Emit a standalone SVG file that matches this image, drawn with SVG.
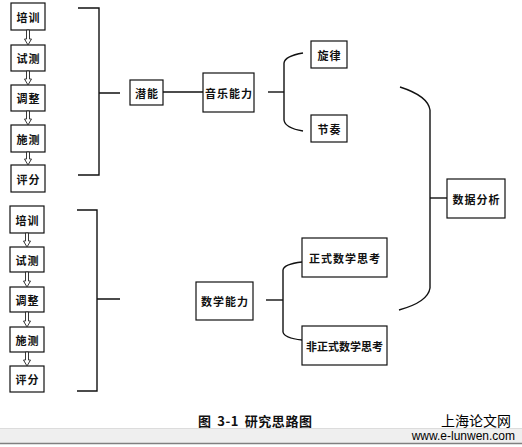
<svg xmlns="http://www.w3.org/2000/svg" width="522" height="447" viewBox="0 0 522 447">
<style>
.box{fill:#fff;stroke:#111;stroke-width:1.2}
.t{font-family:"Noto Sans CJK SC","Noto Sans",sans-serif;font-size:11px;font-weight:bold;fill:#111;text-anchor:middle;dominant-baseline:central;letter-spacing:1px}
.tn{letter-spacing:0px}
.ln{fill:none;stroke:#111;stroke-width:1.4}
.arr{fill:#fff;stroke:#222;stroke-width:0.9}
</style>
<rect x="0" y="0" width="522" height="447" fill="#fff"/>
<g id="col1">
<g id="n1"><rect class="box" x="11" y="3" width="34" height="27"/><text class="t" x="28.5" y="16.5">培训</text></g>
<g id="n2"><rect class="box" x="11" y="45" width="34" height="26"/><text class="t" x="28.5" y="58">试测</text></g>
<g id="n3"><rect class="box" x="11" y="85" width="34" height="26"/><text class="t" x="28.5" y="98">调整</text></g>
<g id="n4"><rect class="box" x="11" y="125" width="34" height="27"/><text class="t" x="28.5" y="138.5">施测</text></g>
<g id="n5"><rect class="box" x="11" y="165" width="34" height="27"/><text class="t" x="28.5" y="178.5">评分</text></g>
</g>
<g id="col2">
<g id="m1"><rect class="box" x="10" y="206" width="34" height="27"/><text class="t" x="27.5" y="219.5">培训</text></g>
<g id="m2"><rect class="box" x="10" y="247" width="34" height="25"/><text class="t" x="27.5" y="259.5">试测</text></g>
<g id="m3"><rect class="box" x="10" y="287" width="34" height="25"/><text class="t" x="27.5" y="299.5">调整</text></g>
<g id="m4"><rect class="box" x="10" y="327" width="34" height="25"/><text class="t" x="27.5" y="339.5">施测</text></g>
<g id="m5"><rect class="box" x="10" y="366" width="34" height="26"/><text class="t" x="27.5" y="379">评分</text></g>
</g>
<g id="qianneng"><rect class="box" x="130" y="80" width="33" height="25"/><text class="t" x="147" y="92.5">潜能</text></g>
<g id="yinyue"><rect class="box" x="203" y="73" width="51" height="39"/><text class="t" x="229" y="92.5">音乐能力</text></g>
<g id="xuanlv"><rect class="box" x="311" y="41" width="36" height="27"/><text class="t" x="329.5" y="54.5">旋律</text></g>
<g id="jiezou"><rect class="box" x="311" y="115" width="36" height="27"/><text class="t" x="329.5" y="128.5">节奏</text></g>
<g id="shuju"><rect class="box" x="447" y="179" width="58" height="39"/><text class="t" x="476.5" y="198.5">数据分析</text></g>
<g id="shuxue"><rect class="box" x="196" y="282" width="57" height="38"/><text class="t" x="225" y="301">数学能力</text></g>
<g id="zhengshi"><rect class="box" x="302" y="238" width="85" height="39"/><text class="t" x="345" y="257.5">正式数学思考</text></g>
<g id="feizhengshi"><rect class="box" x="302" y="326" width="85" height="39"/><text class="t tn" x="344.5" y="345.5">非正式数学思考</text></g>
<g id="connectors">
<g id="arrows">
<polygon class="arr" points="26.5,30 29.5,30 29.5,39 31.5,39 28,45 24.5,39 26.5,39"/>
<polygon class="arr" points="26.5,71 29.5,71 29.5,79 31.5,79 28,85 24.5,79 26.5,79"/>
<polygon class="arr" points="26.5,111 29.5,111 29.5,119 31.5,119 28,125 24.5,119 26.5,119"/>
<polygon class="arr" points="26.5,152 29.5,152 29.5,159 31.5,159 28,165 24.5,159 26.5,159"/>
<polygon class="arr" points="25.5,233 28.5,233 28.5,241 30.5,241 27,247 23.5,241 25.5,241"/>
<polygon class="arr" points="25.5,272 28.5,272 28.5,281 30.5,281 27,287 23.5,281 25.5,281"/>
<polygon class="arr" points="25.5,312 28.5,312 28.5,321 30.5,321 27,327 23.5,321 25.5,321"/>
<polygon class="arr" points="25.5,352 28.5,352 28.5,360 30.5,360 27,366 23.5,360 25.5,360"/>
</g>
<path class="ln" d="M78,8 H99 V175 H78 M99,93 H120"/>
<path class="ln" d="M77,210 H97 V391 H77 M97,299 H120"/>
<path class="ln" d="M163,92 H203"/>
<path class="ln" d="M268,92 H284"/>
<path class="ln" d="M303,53 Q285,56 284,63 V120 Q285,128 303,131"/>
<path class="ln" d="M400,87 Q428,96 430,110 V288 Q428,302 399,310"/>
<path class="ln" d="M430,198 H447"/>
<path class="ln" d="M266,300 H283"/>
<path class="ln" d="M302,262 Q284,264 283,270 V332 Q284,338 302,340"/>
</g>
<text x="198" y="426" style="font-family:'Noto Sans CJK SC',sans-serif;font-size:13px;font-weight:bold;fill:#111;letter-spacing:0.6px;word-spacing:2px">图 3-1 研究思路图</text>
<text x="511" y="426" text-anchor="end" style="font-family:'Noto Sans CJK SC',sans-serif;font-size:14px;fill:#000">上海论文网</text>
<rect x="0" y="428" width="522" height="15" fill="#efefef"/>
<line x1="0" y1="428.5" x2="522" y2="428.5" stroke="#dcdcdc" stroke-width="1"/>
<line x1="0" y1="443.5" x2="522" y2="443.5" stroke="#808080" stroke-width="1.5"/>
<text x="515" y="439.5" text-anchor="end" style="font-family:'Liberation Sans',Arial,sans-serif;font-size:12px;fill:#000">www.e-lunwen.com</text>
</svg>
